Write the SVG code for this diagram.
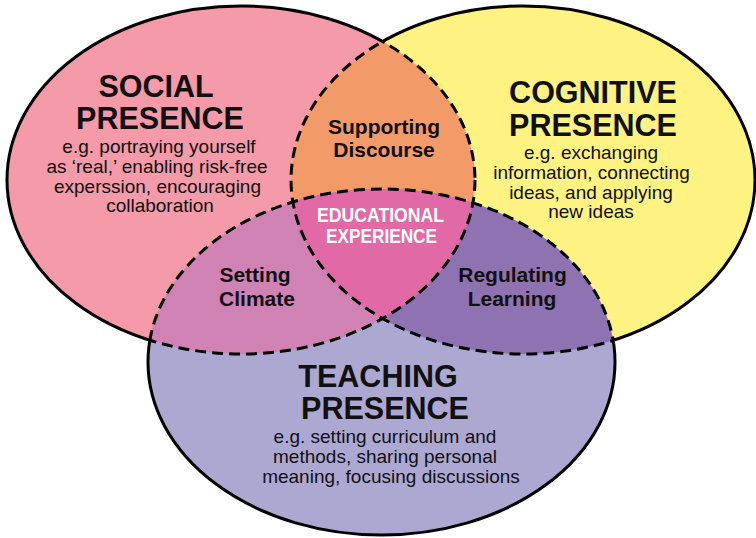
<svg xmlns="http://www.w3.org/2000/svg" xmlns:xlink="http://www.w3.org/1999/xlink" width="756" height="538" viewBox="0 0 756 538">
<style>
text{font-family:"Liberation Sans",Arial,Helvetica,sans-serif;fill:#111;text-anchor:middle}
.h{font-size:30.5px;font-weight:bold}
.b{font-size:19px}
.l{font-size:21px;font-weight:bold}
.w{fill:#fff;font-size:19.5px;font-weight:bold}
.solid{fill:none;stroke:#000;stroke-width:3}
.dash{fill:none;stroke:#000;stroke-width:3;stroke-dasharray:11 6}
</style>
<defs>
<ellipse id="eS" cx="241" cy="180" rx="234" ry="174"/>
<ellipse id="eC" cx="523" cy="180" rx="232" ry="174"/>
<ellipse id="eT" cx="381.5" cy="362" rx="233.5" ry="173"/>
<clipPath id="cpS"><use xlink:href="#eS"/></clipPath>
<clipPath id="cpC"><use xlink:href="#eC"/></clipPath>
<clipPath id="cpCT"><use xlink:href="#eC"/><use xlink:href="#eT"/></clipPath>
<clipPath id="cpST"><use xlink:href="#eS"/><use xlink:href="#eT"/></clipPath>
<clipPath id="cpSC"><use xlink:href="#eS"/><use xlink:href="#eC"/></clipPath>
<mask id="mS" maskUnits="userSpaceOnUse" x="0" y="0" width="756" height="538"><rect width="756" height="538" fill="#fff"/><use xlink:href="#eC" fill="#000"/><use xlink:href="#eT" fill="#000"/></mask>
<mask id="mC" maskUnits="userSpaceOnUse" x="0" y="0" width="756" height="538"><rect width="756" height="538" fill="#fff"/><use xlink:href="#eS" fill="#000"/><use xlink:href="#eT" fill="#000"/></mask>
<mask id="mT" maskUnits="userSpaceOnUse" x="0" y="0" width="756" height="538"><rect width="756" height="538" fill="#fff"/><use xlink:href="#eS" fill="#000"/><use xlink:href="#eC" fill="#000"/></mask>
</defs>
<rect width="756" height="538" fill="#fff"/>
<g id="social">
<use xlink:href="#eS" fill="#F49AA8"/>
<text class="h" x="156" y="97">SOCIAL</text>
<text class="h" x="160" y="129">PRESENCE</text>
<text class="b" x="159" y="153">e.g. portraying yourself</text>
<text class="b" x="157" y="173">as ‘real,’ enabling risk-free</text>
<text class="b" x="157.5" y="193">experssion, encouraging</text>
<text class="b" x="160" y="212">collaboration</text>
</g>
<g id="cognitive">
<use xlink:href="#eC" fill="#FEF283"/>
<text class="h" x="593" y="103">COGNITIVE</text>
<text class="h" x="593" y="136">PRESENCE</text>
<text class="b" x="591" y="159">e.g. exchanging</text>
<text class="b" x="591.5" y="179">information, connecting</text>
<text class="b" x="591" y="199">ideas, and applying</text>
<text class="b" x="591" y="218">new ideas</text>
</g>
<g id="teaching">
<use xlink:href="#eT" fill="#ADA8D1"/>
<text class="h" x="378" y="387">TEACHING</text>
<text class="h" x="385" y="419">PRESENCE</text>
<text class="b" x="385" y="443">e.g. setting curriculum and</text>
<text class="b" x="385" y="463">methods, sharing personal</text>
<text class="b" x="391" y="483">meaning, focusing discussions</text>
</g>
<g id="supporting-discourse">
<use xlink:href="#eC" fill="#F39B68" clip-path="url(#cpS)"/>
<text class="l" x="384" y="134">Supporting</text>
<text class="l" x="384" y="157">Discourse</text>
</g>
<g id="setting-climate">
<use xlink:href="#eT" fill="#D182B5" clip-path="url(#cpS)"/>
<text class="l" x="255" y="282">Setting</text>
<text class="l" x="257" y="306">Climate</text>
</g>
<g id="regulating-learning">
<use xlink:href="#eT" fill="#8F72B1" clip-path="url(#cpC)"/>
<text class="l" x="512.5" y="282">Regulating</text>
<text class="l" x="512" y="306">Learning</text>
</g>
<g id="educational-experience">
<g clip-path="url(#cpS)"><use xlink:href="#eT" fill="#E16AA6" clip-path="url(#cpC)"/></g>
<text class="w" x="380.5" y="222" textLength="127" lengthAdjust="spacingAndGlyphs">EDUCATIONAL</text>
<text class="w" x="381.5" y="243" textLength="111" lengthAdjust="spacingAndGlyphs">EXPERIENCE</text>
</g>
<g id="connectors">
<use xlink:href="#eS" class="solid" mask="url(#mS)"/>
<use xlink:href="#eC" class="solid" mask="url(#mC)"/>
<use xlink:href="#eT" class="solid" mask="url(#mT)"/>
<use xlink:href="#eS" class="dash" clip-path="url(#cpCT)"/>
<use xlink:href="#eC" class="dash" clip-path="url(#cpST)"/>
<use xlink:href="#eT" class="dash" clip-path="url(#cpSC)"/>
</g>
</svg>
